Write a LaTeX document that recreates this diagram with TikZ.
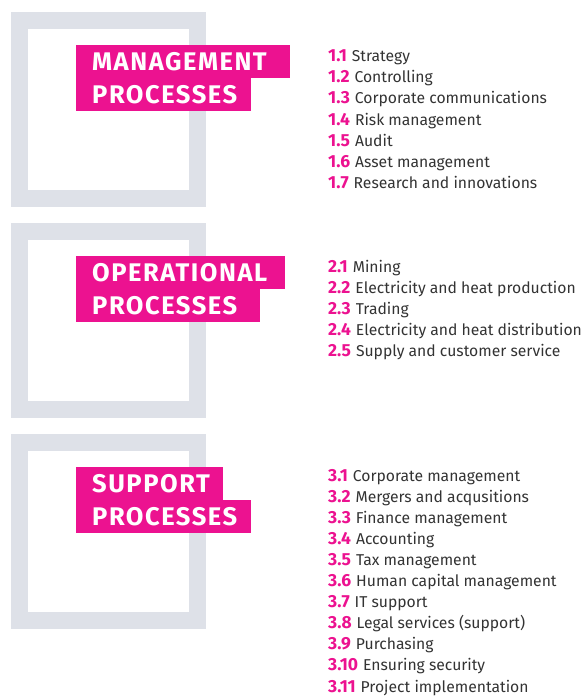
\documentclass[tikz,border=0pt]{standalone}
\usepackage{fontspec}
\setmainfont{Fira Sans}
\newfontfamily\headfont[LetterSpace=6]{Fira Sans}
\definecolor{procpink}{HTML}{EC1290}
\definecolor{framegray}{HTML}{DEE1E8}
\definecolor{itemgray}{HTML}{333333}
\newcommand\procnum[1]{{\bfseries\color{procpink}\fontsize{17.5}{17.5}\selectfont #1}\hspace{5pt}}
\begin{document}
\begin{tikzpicture}[x=1pt, y=-1pt,
    frame/.style={draw=framegray, line width=17pt},
    headbar/.style={rectangle, fill=procpink, anchor=north west, inner xsep=16pt, inner ysep=0pt,
        minimum height=33pt, text=white, font=\headfont\bfseries\fontsize{25.5}{25.5}\selectfont, align=left},
    item/.style={anchor=base west, inner sep=0pt, text=itemgray, font=\fontsize{15.7}{15.7}\selectfont},
]
    \useasboundingbox (0,0) rectangle (586,697);

    % Frames
    \draw[frame] (19.5,20.5) rectangle (197,198.5);
    \draw[frame] (19.5,231.5) rectangle (197,409.5);
    \draw[frame] (19.5,442.5) rectangle (197,620.5);

    % Headings
    \node (mgmt1) [headbar, text width=182pt] at (76,45) {MANAGEMENT};
    \node (mgmt2) [headbar, text width=143pt] at (76,78) {PROCESSES};
    \node (oper1) [headbar, text width=177pt] at (76,256) {OPERATIONAL};
    \node (oper2) [headbar, text width=152pt] at (76,289) {PROCESSES};
    \node (supp1) [headbar, text width=115pt] at (76,467) {SUPPORT};
    \node (supp2) [headbar, text width=143pt] at (76,500) {PROCESSES};

    % Management items
    \foreach \t [count=\i] in {Strategy, Controlling, Corporate communications, Risk management,
        Audit, Asset management, Research and innovations}
        \node (m\i) [item] at (328,61.5+21.2*\i-21.2) {\procnum{1.\i}\t};

    % Operational items
    \foreach \t [count=\i] in {Mining, Electricity and heat production, Trading,
        Electricity and heat distribution, Supply and customer service}
        \node (o\i) [item] at (328,272+21.2*\i-21.2) {\procnum{2.\i}\t};

    % Support items
    \foreach \t [count=\i] in {Corporate management, Mergers and acqusitions, Finance management,
        Accounting, Tax management, Human capital management, IT support,
        Legal services (support), Purchasing, Ensuring security, Project implementation}
        \node (s\i) [item] at (328,481+21.1*\i-21.1) {\procnum{3.\i}\t};
\end{tikzpicture}
\end{document}
